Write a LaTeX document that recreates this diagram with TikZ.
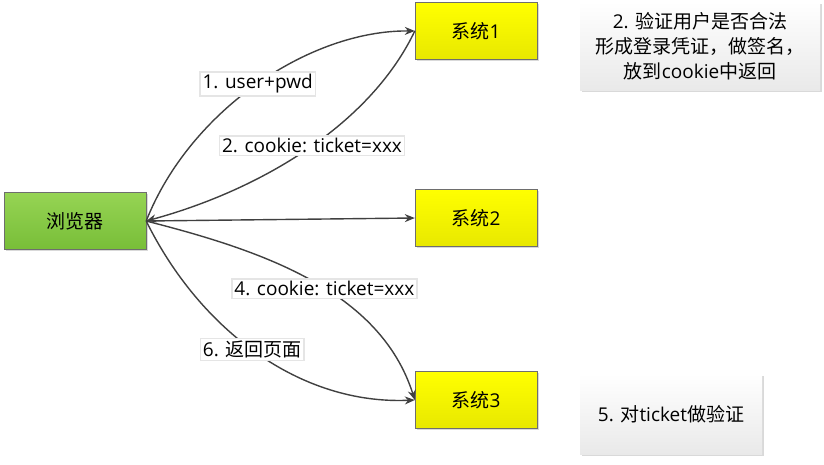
\documentclass[tikz,border=0pt]{standalone}
\usepackage{fontspec}
\setmainfont{Open Sans}
\newfontfamily\cjk{Noto Sans CJK SC}
\usetikzlibrary{shadows, positioning, calc, arrows.meta}
\definecolor{linegray}{HTML}{404040}
\definecolor{boxborder}{HTML}{6E6E6E}
\definecolor{greentop}{HTML}{96D454}
\definecolor{greenbot}{HTML}{78BE38}
\definecolor{yellowtop}{HTML}{FFFF00}
\definecolor{yellowbot}{HTML}{E8E800}
\definecolor{notebot}{HTML}{E9E9E9}

\begin{document}
\begin{tikzpicture}[
		x=1pt, y=-1pt,
		>={Stealth[length=10pt, width=8pt]},
		client/.style={
			draw=boxborder, top color=greentop, bottom color=greenbot,
			minimum width=142pt, minimum height=57pt, font=\fontsize{19}{22}\selectfont,
			drop shadow={opacity=0.3, shadow xshift=1.5pt, shadow yshift=-1.5pt}
		},
		system/.style={
			draw=boxborder, top color=yellowtop, bottom color=yellowbot,
			minimum width=122pt, minimum height=57pt, font=\fontsize{19}{22}\selectfont,
			drop shadow={opacity=0.3, shadow xshift=1.5pt, shadow yshift=-1.5pt}
		},
		note/.style={
			top color=white, bottom color=notebot, align=center,
			font=\fontsize{19}{25}\selectfont,
			drop shadow={opacity=0.3, shadow xshift=2pt, shadow yshift=-2pt}
		},
		flow/.style={->, draw=linegray, line width=1.4pt},
		steplabel/.style={fill=white, draw=black!10, inner sep=2.5pt, font=\fontsize{19}{22}\selectfont}
		]
		
		\useasboundingbox (0,0) rectangle (824,464);
		
		% ==========================================
		% Boxes
		% ==========================================
		
		\node[client] (browser) at (75,221) {\cjk 浏览器};
		\node[system] (sys1) at (476,31) {{\cjk 系统}1};
		\node[system] (sys2) at (476,218) {{\cjk 系统}2};
		\node[system] (sys3) at (476,400) {{\cjk 系统}3};
		
		% Notes beside the systems
		\node[note, minimum width=240pt, minimum height=88pt] (note2) at (700,46) {
			2. {\cjk 验证用户是否合法}\\
			{\cjk 形成登录凭证，做签名，}\\
			{\cjk 放到}cookie{\cjk 中返回}
		};
		\node[note, minimum width=182pt, minimum height=80pt] (note5) at (671,414) {5. {\cjk 对}ticket{\cjk 做验证}};
		
		% ==========================================
		% Requests and responses
		% ==========================================
		
		% Login at system 1
		\draw[flow] (browser.east) .. controls (190,110) and (310,30) ..
			node[steplabel, pos=0.5] (lbl1) {1. user+pwd} (sys1.west);
		\draw[flow] (sys1.west) .. controls (370,125) and (260,190) ..
			node[steplabel, pos=0.48] (lbl2) {2. cookie: ticket=xxx} (browser.east);
		
		% System 2
		\draw[flow] (browser.east) -- (sys2.west);
		
		% Visit system 3 with the ticket
		\draw[flow] (browser.east) .. controls (260,250) and (380,290) ..
			node[steplabel, pos=0.55] (lbl4) {4. cookie: ticket=xxx} (sys3.west);
		\draw[flow] (browser.east) .. controls (200,330) and (300,405) ..
			node[steplabel, pos=0.48] (lbl6) {6. {\cjk 返回页面}} (sys3.west);
		
	\end{tikzpicture}
\end{document}
